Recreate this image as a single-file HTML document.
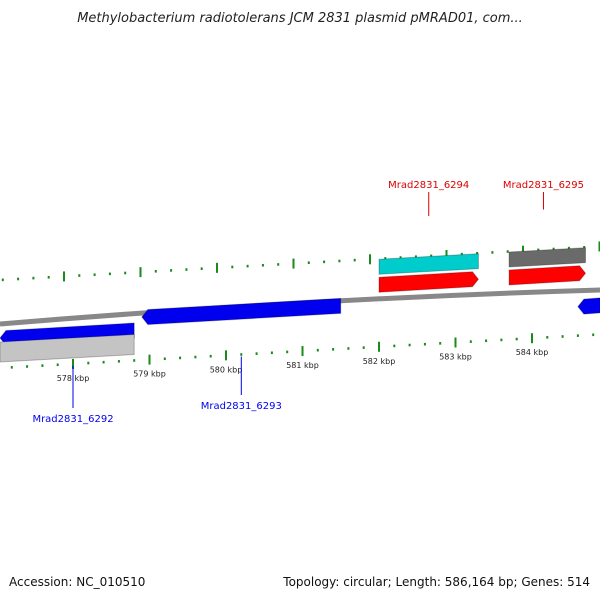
<!DOCTYPE html>
<html><head><meta charset="utf-8"><style>
body{margin:0;background:#fff;width:600px;height:600px;overflow:hidden}
svg{display:block}
text{font-family:"DejaVu Sans","Liberation Sans",sans-serif}
</style></head><body>
<svg id="c" width="600" height="600">
<text x="300" y="22" text-anchor="middle" font-size="13" font-style="italic" fill="#222">Methylobacterium radiotolerans JCM 2831 plasmid pMRAD01, com...</text>
<path d="M0,324 Q300,299 600,290" stroke="#888" stroke-width="5" fill="none"/>
<g id="ticks"></g>
<g id="genes"></g>
<text x="9" y="586" font-size="12" fill="#111">Accession: NC_010510</text>
<text x="590" y="586" font-size="12" fill="#111" text-anchor="end">Topology: circular; Length: 586,164 bp; Genes: 514</text>
</svg>
<script>
const kbpLabels=[578,579,580,581,582,583,584];
const geneStarts=[577.0,578.9,577.0,582.0,582.0,583.7,583.7,584.6];
const geneEnds=[578.8,581.5,578.8,583.3,583.3,584.7,584.7,585.0];
const geneRows=[1,3,2,-2,-1,-2,-1,0];
const geneColors=['#0000ee','#0000ee','#c4c4c4','#00cccc','#ff0000','#6a6a6a','#ff0000','#0000ee'];
const geneDirs=[-1,-1,0,0,1,0,1,-1];
const labelNames=['Mrad2831_6292','Mrad2831_6293','Mrad2831_6294','Mrad2831_6295'];
const labelPos=[578.0,580.2,582.65,584.15];
const labelSide=[1,1,-1,-1];
const labelColors=['#0000ee','#0000ee','#dd0000','#dd0000'];
const NS='http://www.w3.org/2000/svg';
const X=k=>73+(k-578)*76.5;
const slope=-0.056;
const yBottom=x=>368+slope*x;
const yTop=x=>280+slope*x;
const rowBase={'-2':288,'-1':306,'0':339,'1':338,'2':352,'3':325};
const rowY=(r,x)=>rowBase[r]+slope*x;
const T=document.getElementById('ticks'),G=document.getElementById('genes');
function mk(p,tag,attrs){const e=document.createElementNS(NS,tag);for(const k in attrs)e.setAttribute(k,attrs[k]);p.appendChild(e);return e;}
for(let i=-3;i<=60;i++){
 const k=577+i*0.2;const major=Math.abs(k-Math.round(k))<1e-6;
 const xb=X(k);const xt=xb-9;
 const h=major?5:1.3;
 let e=mk(T,'line',{x1:xb,x2:xb,y1:yBottom(xb)-h,y2:yBottom(xb)+h,stroke:'#1a8a1a','stroke-width':2});
 
 
 e=mk(T,'line',{x1:xt,x2:xt,y1:yTop(xt)-h,y2:yTop(xt)+h,stroke:'#1a8a1a','stroke-width':2});
 
 
}
kbpLabels.forEach(k=>{const x=X(k);const t=mk(T,'text',{x:x,y:yBottom(x)+17,'font-size':8,'text-anchor':'middle',fill:'#222'});t.textContent=k+' kbp';
 
 });
geneStarts.forEach((s,i)=>{
 const x1=Math.max(0,X(s)),x2=Math.min(600,X(geneEnds[i]));
 const h=geneRows[i]===2?20:15;const a=6;
 const y1=rowY(geneRows[i],x1),y2=rowY(geneRows[i],x2);const d=geneDirs[i];
 let pts;
 if(d===1)pts=[[x1,y1-h/2],[x2-a,y2-h/2],[x2,y2],[x2-a,y2+h/2],[x1,y1+h/2]];
 else if(d===-1)pts=[[x1+a,y1-h/2],[x2,y2-h/2],[x2,y2+h/2],[x1+a,y1+h/2],[x1,y1]];
 else pts=[[x1,y1-h/2],[x2,y2-h/2],[x2,y2+h/2],[x1,y1+h/2]];
 const p=mk(G,'polygon',{points:pts.map(q=>q.join(',')).join(' '),fill:geneColors[i],stroke:'rgba(0,0,0,0.25)','stroke-width':1});
 
 
});
labelNames.forEach((n,i)=>{
 const x=X(labelPos[i]);const up=labelSide[i]<0;
 const y0=up?240+slope*x:yBottom(x)+2;const y1=up?192:(i===0?418:405);
 const l=mk(G,'line',{x1:x,x2:x,y1:y0,y2:y1+(up?0:-10),stroke:labelColors[i],'stroke-width':1});
 
 
 const t=mk(G,'text',{x:x,y:up?y1-4:y1+4,'font-size':10,'text-anchor':'middle',fill:labelColors[i]});t.textContent=n;
 
 
});
</script>
</body></html>
